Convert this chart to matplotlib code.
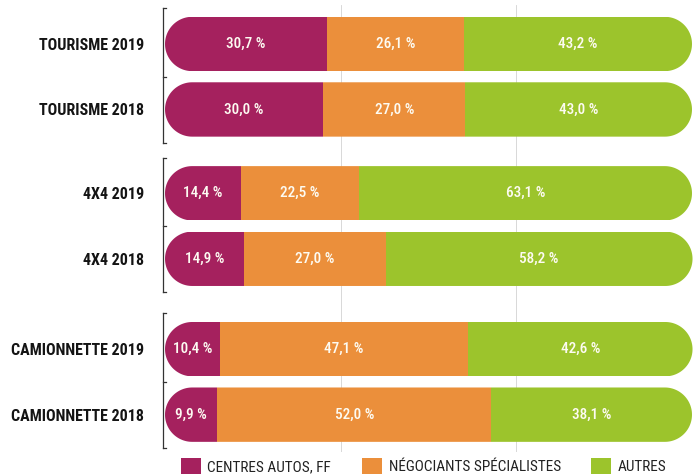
import matplotlib
matplotlib.use("Agg")
import matplotlib.pyplot as plt
import numpy as np
from matplotlib import font_manager
from matplotlib.patches import PathPatch, Patch
from matplotlib.path import Path

rows = ['TOURISME 2019', 'TOURISME 2018', '4X4 2019', '4X4 2018',
        'CAMIONNETTE 2019', 'CAMIONNETTE 2018']
group_sizes = [2, 2, 2]
centres_autos = [30.7, 30.0, 14.4, 14.9, 10.4, 9.9]
negociants = [26.1, 27.0, 22.5, 27.0, 47.1, 52.0]
autres = [43.2, 43.0, 63.1, 58.2, 42.6, 38.1]
series_names = ['CENTRES AUTOS, FF', 'NÉGOCIANTS SPÉCIALISTES', 'AUTRES']
colors = ['#a5215e', '#eb8f3b', '#9cc42c']

# pick a narrow face if there is one
installed = {f.name for f in font_manager.fontManager.ttflist}
narrow = [f for f in ['Roboto Condensed', 'Liberation Sans Narrow', 'Open Sans Condensed'] if f in installed]
plt.rcParams['font.family'] = narrow + ['DejaVu Sans']

# row positions, a bit more room between the groups
group_gaps = [1.28, 1.38]
ypos = []
y = 0.0
for g, n in enumerate(group_sizes):
    for i in range(n):
        ypos.append(y)
        y += 1
    if g < len(group_gaps):
        y += group_gaps[g] - 1
ypos = np.array(ypos)
bar_h = 0.83


def pill(x0, x1, yc, h, rx):
    # capsule outline, half ellipses at both ends
    ry = h / 2
    t1 = np.linspace(np.pi / 2, 3 * np.pi / 2, 60)
    t2 = np.linspace(-np.pi / 2, np.pi / 2, 60)
    left = np.c_[x0 + rx + rx * np.cos(t1), yc + ry * np.sin(t1)]
    right = np.c_[x1 - rx + rx * np.cos(t2), yc + ry * np.sin(t2)]
    return Path(np.vstack([left, right, left[:1]]), closed=True)


fig = plt.figure(figsize=(6.97, 4.75), dpi=100)
ax = fig.add_axes([155 / 697, 23 / 475, 542 / 697, 447 / 475])
ax.set_xlim(-1.9, 100.95)
ax.set_ylim(6.23, -0.595)

for gx in [100 / 3, 200 / 3]:
    ax.axvline(gx, color='#d2d2d2', lw=0.6, zorder=0)

# rounded clip shape for each row
px = ax.transData.transform([(0, 0), (1, 1)])
px_x, px_y = abs(px[1, 0] - px[0, 0]), abs(px[1, 1] - px[0, 1])
r_x = (bar_h / 2) * px_y / px_x
totals = np.array(centres_autos) + np.array(negociants) + np.array(autres)
clips = [PathPatch(pill(0, tot, yc, bar_h, r_x), transform=ax.transData)
         for yc, tot in zip(ypos, totals)]

left = np.zeros(len(rows))
for vals, color in zip([centres_autos, negociants, autres], colors):
    vals = np.array(vals)
    bars = ax.barh(ypos, vals, left=left, height=bar_h, color=color, lw=0, zorder=2)
    for b, clip in zip(bars, clips):
        b.set_clip_path(clip)
    for yc, v, l in zip(ypos, vals, left):
        ax.text(l + v / 2, yc, f'{v:.1f} %'.replace('.', ','), color='#fdfbf2',
                ha='center', va='center', fontsize=11, fontweight='medium', zorder=3)
    left += vals

# brackets on the left of each group
start = 0
for n in group_sizes:
    top = ypos[start] - bar_h / 2 - 0.13
    bot = ypos[start + n - 1] + bar_h / 2 + 0.09
    mid = (ypos[start] + ypos[start + n - 1]) / 2
    bx = -0.3
    ax.plot([bx, bx], [top, bot], color='#333333', lw=0.9, clip_on=False, zorder=4)
    for ty in [top, mid, bot]:
        ax.plot([bx, bx + 0.45], [ty, ty], color='#333333', lw=0.9, clip_on=False, zorder=4)
    start += n

for s in ax.spines.values():
    s.set_visible(False)
ax.set_xticks([])
ax.set_yticks(ypos, rows)
ax.tick_params(axis='y', length=0, pad=8)
for t in ax.get_yticklabels():
    t.set_fontweight('bold')
    t.set_fontsize(11.5)
    t.set_color('#141414')

handles = [Patch(facecolor=c, label=n) for c, n in zip(colors, series_names)]
fig.legend(handles=handles, loc='center', bbox_to_anchor=(0.608, 1 - 466 / 475), ncol=3,
           frameon=False, handlelength=1.3, handleheight=1.3, handletextpad=0.45,
           columnspacing=2.0, fontsize=11, labelcolor='#222222')

fig.savefig('out.png', dpi=100)
